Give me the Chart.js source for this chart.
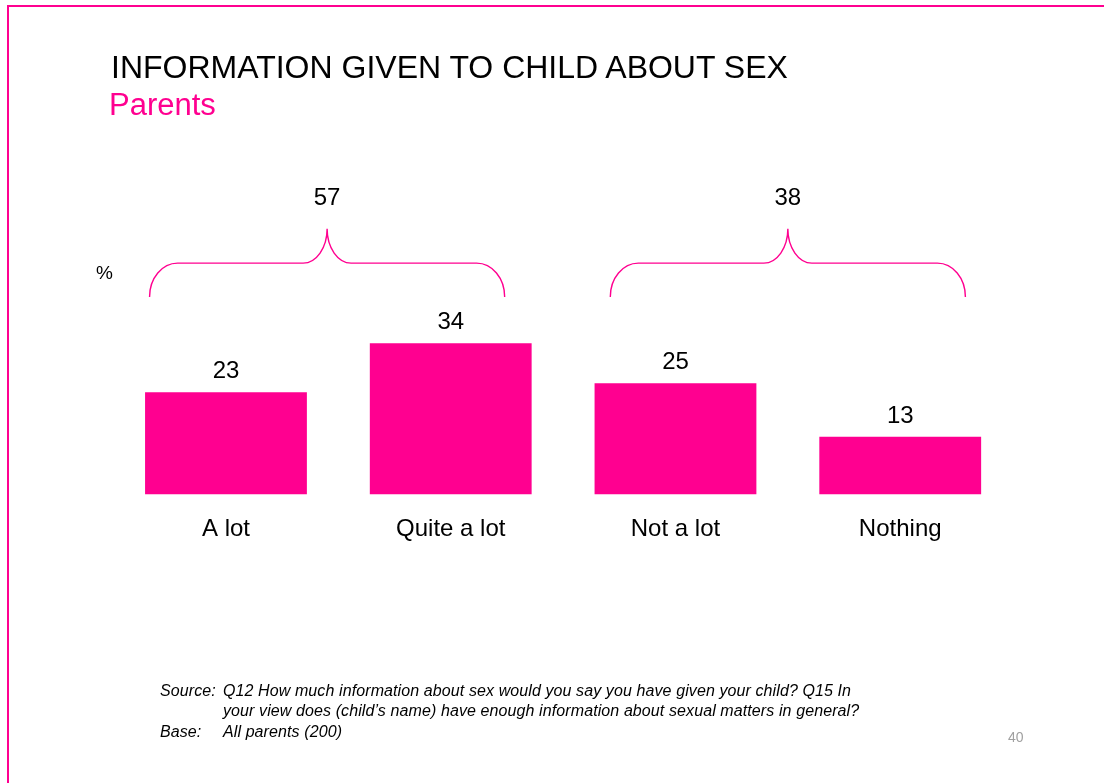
<!DOCTYPE html>
<html>
<head>
<meta charset="utf-8">
<script src="https://cdn.jsdelivr.net/npm/chart.js@4"></script>
<style>
  html, body { margin: 0; padding: 0; background: #fff; }
  #page { position: relative; width: 1104px; height: 783px; overflow: hidden; background: #fff;
          font-family: 'Liberation Sans', Arial, sans-serif; }
  #frame { position: absolute; left: 7px; top: 5px; right: -10px; bottom: -10px;
           border-top: 2px solid #FF0090; border-left: 2px solid #FF0090; }
  #chart { position: absolute; left: 0; top: 0; }
  .txt { position: absolute; white-space: nowrap; }
  #title { left: 111px; top: 51px; font-size: 32px; line-height: 32px; color: #000; }
  #subtitle { left: 109px; top: 89px; font-size: 31px; line-height: 31px; color: #FF0090; }
  #unit { left: 96px; top: 263px; font-size: 19px; line-height: 19px; color: #000; }
  .foot { font-family: 'Liberation Sans Narrow', 'Liberation Sans', Arial, sans-serif;
          font-style: italic; font-size: 16px; line-height: 20px; color: #000; letter-spacing: 0.1px; }
  #pageno { left: 1008px; top: 730px; font-size: 14px; line-height: 14px; color: #A0A0A0; }
</style>
</head>
<body>
<div id="page">
  <div id="frame"></div>
  <canvas id="chart" width="1104" height="783"></canvas>
  <div id="title" class="txt">INFORMATION GIVEN TO CHILD ABOUT SEX</div>
  <div id="subtitle" class="txt">Parents</div>
  <div id="unit" class="txt">%</div>
  <div class="txt foot" style="left:160px; top:681px;">Source:</div>
  <div class="txt foot" style="left:223px; top:681px;">Q12 How much information about sex would you say you have given your child? Q15 In</div>
  <div class="txt foot" style="left:223px; top:701px;">your view does (child’s name) have enough information about sexual matters in general?</div>
  <div class="txt foot" style="left:160px; top:722px;">Base:</div>
  <div class="txt foot" style="left:223px; top:722px;">All parents (200)</div>
  <div id="pageno" class="txt">40</div>
</div>
<script>
// Answer categories and the share of parents giving each answer (%)
const categories = ['A lot', 'Quite a lot', 'Not a lot', 'Nothing'];
const values = [23, 34, 25, 13];

// Answers summed under each brace
const groupMembers = [[0, 1], [2, 3]];

// Brace layout: horizontal span in category units, vertical levels in value units
const braceSpans = [[-0.34, 1.24], [1.71, 3.29]];
const braceLevels = { end: 44.4, mid: 52.0, tip: 59.7, total: 65.1 };

const PINK = '#FF0090';
const FONT = "'Liberation Sans', Arial, sans-serif";

const barLabels = {
  id: 'barLabels',
  afterDatasetsDraw(chart) {
    const ctx = chart.ctx;
    const meta = chart.getDatasetMeta(0);
    ctx.save();
    ctx.fillStyle = '#000';
    ctx.font = '24px ' + FONT;
    ctx.textAlign = 'center';
    ctx.textBaseline = 'alphabetic';
    meta.data.forEach((bar, i) => {
      ctx.fillText(String(values[i]), bar.x, bar.y - 14);
    });
    ctx.restore();
  }
};

const braces = {
  id: 'braces',
  afterDatasetsDraw(chart) {
    const ctx = chart.ctx;
    const xs = chart.scales.x, ys = chart.scales.y;
    const yEnd = ys.getPixelForValue(braceLevels.end);
    const yMid = ys.getPixelForValue(braceLevels.mid);
    const yTip = ys.getPixelForValue(braceLevels.tip);
    const yTot = ys.getPixelForValue(braceLevels.total);
    const k = 0.5523;
    const rEnd = 28, rTip = 24;
    const h1 = yEnd - yMid, h2 = yMid - yTip;
    ctx.save();
    ctx.strokeStyle = PINK;
    ctx.lineWidth = 1.4;
    braceSpans.forEach((span, g) => {
      const x0 = xs.getPixelForValue(span[0]);
      const x1 = xs.getPixelForValue(span[1]);
      const xc = (x0 + x1) / 2;
      ctx.beginPath();
      ctx.moveTo(x0, yEnd);
      ctx.bezierCurveTo(x0, yEnd - k * h1, x0 + rEnd - k * rEnd, yMid, x0 + rEnd, yMid);
      ctx.lineTo(xc - rTip, yMid);
      ctx.bezierCurveTo(xc - rTip + k * rTip, yMid, xc, yTip + k * h2, xc, yTip);
      ctx.bezierCurveTo(xc, yTip + k * h2, xc + rTip - k * rTip, yMid, xc + rTip, yMid);
      ctx.lineTo(x1 - rEnd, yMid);
      ctx.bezierCurveTo(x1 - rEnd + k * rEnd, yMid, x1, yEnd - k * h1, x1, yEnd);
      ctx.stroke();

      const total = groupMembers[g].reduce((s, i) => s + values[i], 0);
      ctx.fillStyle = '#000';
      ctx.font = '24px ' + FONT;
      ctx.textAlign = 'center';
      ctx.textBaseline = 'alphabetic';
      ctx.fillText(String(total), xc, yTot);
    });
    ctx.restore();
  }
};

new Chart(document.getElementById('chart'), {
  type: 'bar',
  data: {
    labels: categories,
    datasets: [{
      data: values,
      backgroundColor: PINK,
      borderWidth: 0,
      barPercentage: 0.72,
      categoryPercentage: 1.0
    }]
  },
  options: {
    responsive: false,
    animation: false,
    devicePixelRatio: 1,
    layout: { padding: { top: 138.5, left: 113.6, right: 91.4, bottom: 238.5 } },
    plugins: { legend: { display: false }, tooltip: { enabled: false }, title: { display: false } },
    scales: {
      x: {
        grid: { display: false, drawTicks: false },
        border: { display: false },
        ticks: { color: '#000', font: { family: FONT, size: 24 }, padding: 20.6 },
        afterFit(scale) { scale.height = 50; }
      },
      y: { display: false, min: 0, max: 80 }
    }
  },
  plugins: [braces, barLabels]
});
</script>
</body>
</html>
